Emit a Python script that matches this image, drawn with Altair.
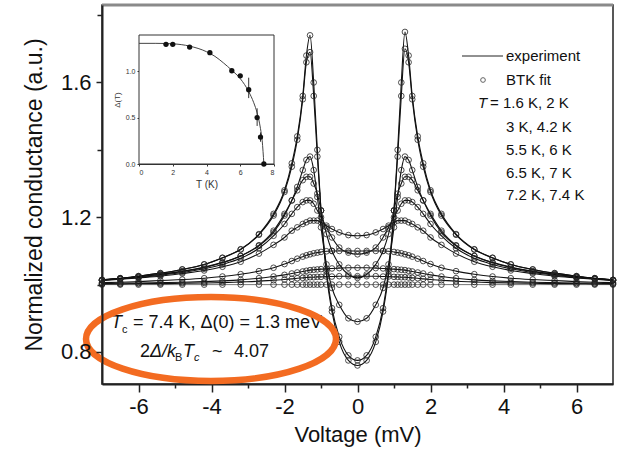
import altair as alt
import pandas as pd

FONT = "Liberation Sans"

# ---------------- main data ----------------
VOLTS = [-7.0, -6.5, -6.0, -5.4, -4.8, -4.2, -3.7, -3.2, -2.7, -2.3, -2.0, -1.8, -1.65, -1.5, -1.4, -1.3,
         -1.2, -1.1, -1.0, -0.85, -0.7, -0.5, -0.25,
         0.0,
         0.25, 0.5, 0.7, 0.85, 1.0, 1.1, 1.2, 1.3, 1.4, 1.5, 1.65, 1.8, 2.0, 2.3, 2.7, 3.2, 3.7, 4.2,
         4.8, 5.4, 6.0, 6.5, 7.0]

G_1_6K = [1.014, 1.019, 1.025, 1.034, 1.045, 1.06, 1.08, 1.105, 1.15, 1.21, 1.28, 1.36, 1.44, 1.56, 1.68, 1.74,
          1.60, 1.40, 1.22, 1.03, 0.92, 0.83, 0.775,
          0.76,
          0.775, 0.83, 0.92, 1.03, 1.22, 1.40, 1.60, 1.75, 1.68, 1.56, 1.44, 1.36, 1.28, 1.21, 1.15, 1.105,
          1.08, 1.06, 1.045, 1.034, 1.025, 1.019, 1.014]
G_2K = [1.014, 1.019, 1.025, 1.034, 1.045, 1.06, 1.079, 1.104, 1.148, 1.205, 1.275, 1.35, 1.43, 1.55, 1.66, 1.69,
        1.56, 1.38, 1.22, 1.04, 0.93, 0.845, 0.79,
        0.775,
        0.79, 0.845, 0.93, 1.04, 1.22, 1.38, 1.56, 1.70, 1.66, 1.55, 1.43, 1.35, 1.275, 1.205, 1.148, 1.104,
        1.079, 1.06, 1.045, 1.034, 1.025, 1.019, 1.014]
G_3K = [1.014, 1.018, 1.024, 1.031, 1.04, 1.052, 1.066, 1.085, 1.115, 1.155, 1.205, 1.25, 1.29, 1.34, 1.37, 1.38,
        1.34, 1.26, 1.17, 1.06, 0.99, 0.94, 0.90,
        0.89,
        0.90, 0.94, 0.99, 1.06, 1.17, 1.26, 1.34, 1.38, 1.37, 1.34, 1.29, 1.25, 1.205, 1.155, 1.115, 1.085,
        1.066, 1.052, 1.04, 1.031, 1.024, 1.018, 1.014]
G_4_2K = [1.013, 1.018, 1.023, 1.03, 1.039, 1.051, 1.065, 1.085, 1.117, 1.16, 1.21, 1.25, 1.28, 1.31, 1.32, 1.32,
          1.30, 1.27, 1.22, 1.15, 1.10, 1.06, 1.03,
          1.02,
          1.03, 1.06, 1.10, 1.15, 1.22, 1.27, 1.30, 1.32, 1.32, 1.31, 1.28, 1.25, 1.21, 1.16, 1.117, 1.085,
          1.065, 1.051, 1.039, 1.03, 1.023, 1.018, 1.013]
G_5_5K = [1.013, 1.017, 1.021, 1.028, 1.036, 1.047, 1.06, 1.078, 1.108, 1.145, 1.18, 1.21, 1.23, 1.245, 1.25, 1.25,
          1.24, 1.22, 1.20, 1.17, 1.14, 1.11, 1.095,
          1.09,
          1.095, 1.11, 1.14, 1.17, 1.20, 1.22, 1.24, 1.25, 1.25, 1.245, 1.23, 1.21, 1.18, 1.145, 1.108, 1.078,
          1.06, 1.047, 1.036, 1.028, 1.021, 1.017, 1.013]
G_6K = [1.012, 1.016, 1.02, 1.025, 1.033, 1.042, 1.053, 1.068, 1.092, 1.118, 1.14, 1.16, 1.17, 1.18, 1.185, 1.19,
        1.19, 1.19, 1.185, 1.175, 1.165, 1.155, 1.147,
        1.145,
        1.147, 1.155, 1.165, 1.175, 1.185, 1.19, 1.19, 1.19, 1.185, 1.18, 1.17, 1.16, 1.14, 1.118, 1.092, 1.068,
        1.053, 1.042, 1.033, 1.025, 1.02, 1.016, 1.012]
G_6_5K = [1.006, 1.007, 1.009, 1.012, 1.015, 1.019, 1.024, 1.031, 1.04, 1.05, 1.061, 1.07, 1.077, 1.083, 1.087, 1.09,
          1.093, 1.095, 1.097, 1.099, 1.10, 1.10, 1.10,
          1.10,
          1.10, 1.10, 1.10, 1.099, 1.097, 1.095, 1.093, 1.09, 1.087, 1.083, 1.077, 1.07, 1.061, 1.05, 1.04, 1.031,
          1.024, 1.019, 1.015, 1.012, 1.009, 1.007, 1.006]
G_7K = [1.003, 1.004, 1.005, 1.006, 1.007, 1.009, 1.011, 1.014, 1.019, 1.024, 1.029, 1.033, 1.036, 1.039, 1.041, 1.043,
        1.044, 1.045, 1.046, 1.047, 1.048, 1.049, 1.05,
        1.05,
        1.05, 1.049, 1.048, 1.047, 1.046, 1.045, 1.044, 1.043, 1.041, 1.039, 1.036, 1.033, 1.029, 1.024, 1.019, 1.014,
        1.011, 1.009, 1.007, 1.006, 1.005, 1.004, 1.003]
G_7_2K = [1.002, 1.002, 1.003, 1.003, 1.004, 1.005, 1.006, 1.008, 1.01, 1.013, 1.015, 1.017, 1.019, 1.02, 1.021, 1.022,
          1.022, 1.023, 1.023, 1.024, 1.024, 1.025, 1.025,
          1.025,
          1.025, 1.025, 1.024, 1.024, 1.023, 1.023, 1.022, 1.022, 1.021, 1.02, 1.019, 1.017, 1.015, 1.013, 1.01, 1.008,
          1.006, 1.005, 1.004, 1.003, 1.003, 1.002, 1.002]
G_7_4K = [1.0, 1.0, 1.0, 1.0, 1.0, 1.0, 1.0, 1.0, 1.0, 1.0, 1.0, 1.0, 1.0, 1.0, 1.0, 1.0,
          1.0, 1.0, 1.0, 1.0, 1.0, 1.0, 1.0,
          1.0,
          1.0, 1.0, 1.0, 1.0, 1.0, 1.0, 1.0, 1.0, 1.0, 1.0, 1.0, 1.0, 1.0, 1.0, 1.0, 1.0,
          1.0, 1.0, 1.0, 1.0, 1.0, 1.0, 1.0]

TEMPS = ["1.6 K", "2 K", "3 K", "4.2 K", "5.5 K", "6 K", "6.5 K", "7 K", "7.2 K", "7.4 K"]
CURVES = [G_1_6K, G_2K, G_3K, G_4_2K, G_5_5K, G_6K, G_6_5K, G_7K, G_7_2K, G_7_4K]

# ---------------- inset data ----------------
INSET_T = [1.6, 2.0, 3.0, 4.2, 5.5, 6.0, 6.5, 7.0, 7.2, 7.4]
INSET_D = [1.29, 1.29, 1.26, 1.20, 1.005, 0.95, 0.80, 0.50, 0.29, 0.0]
FIT_T = [0.0, 1.0, 2.0, 3.0, 4.0, 4.5, 5.0, 5.5, 6.0, 6.5, 6.8, 7.0, 7.2, 7.3, 7.4]
FIT_D = [1.30, 1.30, 1.295, 1.27, 1.21, 1.16, 1.09, 1.01, 0.92, 0.78, 0.66, 0.55, 0.38, 0.25, 0.0]
ERR_T = [6.5, 7.0, 7.2]
ERR_LO = [0.71, 0.41, 0.24]
ERR_HI = [0.93, 0.60, 0.34]

rows = []
for name, vals in zip(TEMPS, CURVES):
    assert len(vals) == len(VOLTS), name
    for v, g in zip(VOLTS, vals):
        rows.append({"V": v, "G": g, "T": name})
df = pd.DataFrame(rows)
df_main = df[df["T"] != "7.4 K"]
df_flat = df[df["T"] == "7.4 K"]

ins_pts = pd.DataFrame({"T": INSET_T, "D": INSET_D})
ins_fit = pd.DataFrame({"T": FIT_T, "D": FIT_D})
ins_err = pd.DataFrame({"T": ERR_T, "lo": ERR_LO, "hi": ERR_HI})

OX, OY = 102, 5
W, H = 511, 379

xs = alt.Scale(domain=[-7, 7], nice=False, zero=False)
ys = alt.Scale(domain=[0.705, 1.83], nice=False, zero=False)

x_axis = alt.Axis(
    values=list(range(-6, 7)),
    labelExpr="datum.value % 2 === 0 ? (datum.value + '') : ''",
    tickSize={"condition": {"test": "datum.value % 2 === 0", "value": 8}, "value": 4},
    title="Voltage (mV)", grid=False,
    domainColor="#222", domainWidth=2, tickColor="#222", tickWidth=1.5,
    labelFont=FONT, titleFont=FONT, labelFontSize=22, titleFontSize=22,
    labelColor="#111", titleColor="#111", titleFontWeight="normal",
    labelPadding=4, titlePadding=7,
)
y_axis = alt.Axis(
    values=[0.8, 1.0, 1.2, 1.4, 1.6, 1.8],
    labelExpr="round(datum.value * 10) % 4 === 0 ? format(datum.value, '.1f') : ''",
    tickSize={"condition": {"test": "round(datum.value * 10) % 4 === 0", "value": 6}, "value": 5},
    title="Normalized conductance (a.u.)", grid=False,
    domainColor="#222", domainWidth=2, tickColor="#222", tickWidth=1.5,
    labelFont=FONT, titleFont=FONT, labelFontSize=22, titleFontSize=23,
    labelColor="#111", titleColor="#111", titleFontWeight="normal",
    labelPadding=5, titlePadding=14, zindex=1,
)

flat = alt.Chart(df_flat).mark_line(color="#777", strokeWidth=1).encode(
    x=alt.X("V:Q", scale=xs, axis=x_axis),
    y=alt.Y("G:Q", scale=ys, axis=y_axis),
)
lines = alt.Chart(df_main).mark_line(color="#111", strokeWidth=1.1, interpolate="monotone").encode(
    x=alt.X("V:Q", scale=xs), y=alt.Y("G:Q", scale=ys), detail="T:N"
)
pts = alt.Chart(df).mark_point(shape="circle", size=32, filled=False, color="#222",
                               strokeWidth=0.8, opacity=1).encode(
    x=alt.X("V:Q", scale=xs), y=alt.Y("G:Q", scale=ys)
)


def txt(s, x, y, size, italic=False, baseline="middle", align="left", color="#111"):
    return alt.Chart(alt.Data(values=[{}])).mark_text(
        text=s, fontSize=size, font=FONT, fontStyle="italic" if italic else "normal",
        align=align, baseline=baseline, color=color,
    ).encode(x=alt.value(x - OX), y=alt.value(y - OY))


top_line = alt.Chart(alt.Data(values=[{}])).mark_rule(color="#8a8a8a", strokeWidth=3).encode(
    x=alt.value(0), x2=alt.value(W), y=alt.value(0)
)

# legend
leg_line = alt.Chart(alt.Data(values=[{}])).mark_rule(color="#222", strokeWidth=1).encode(
    x=alt.value(462 - OX), x2=alt.value(503 - OX), y=alt.value(56 - OY)
)
leg_pt = alt.Chart(alt.Data(values=[{}])).mark_point(shape="circle", size=22, filled=False,
                                                      color="#222", strokeWidth=1).encode(
    x=alt.value(483 - OX), y=alt.value(80 - OY)
)
LS = 15
legend = [
    leg_line, leg_pt,
    txt("experiment", 506, 56, LS),
    txt("BTK fit", 506, 80, LS),
    txt("T", 478, 103, LS, italic=True),
    txt("= 1.6 K, 2 K", 490, 103, LS),
    txt("3 K, 4.2 K", 506, 127, LS),
    txt("5.5 K, 6 K", 506, 150, LS),
    txt("6.5 K, 7 K", 506, 173, LS),
    txt("7.2 K, 7.4 K", 506, 195, LS),
]

# annotation
AS = 18
annot = [
    txt("T", 111, 328, AS, italic=True, baseline="alphabetic"),
    txt("c", 122, 333, 11, baseline="alphabetic"),
    txt("= 7.4 K, \u0394(0) = 1.3 meV", 133, 328, AS, baseline="alphabetic"),
    txt("2", 140, 357, AS, baseline="alphabetic"),
    txt("\u0394/k", 150, 357, AS, italic=True, baseline="alphabetic"),
    txt("B", 175, 361, 11, baseline="alphabetic"),
    txt("T", 183, 357, AS, italic=True, baseline="alphabetic"),
    txt("c", 194, 361, 11, italic=True, baseline="alphabetic"),
    txt("~", 212, 357, AS, baseline="alphabetic"),
    txt("4.07", 234, 357, AS, baseline="alphabetic"),
]

ELLIPSE = ("M 1 0 C 1 0.1856 0.5523 0.336 0 0.336 C -0.5523 0.336 -1 0.1856 -1 0 "
           "C -1 -0.1856 -0.5523 -0.336 0 -0.336 C 0.5523 -0.336 1 -0.1856 1 0 Z")
ellipse = alt.Chart(alt.Data(values=[{}])).mark_point(
    shape=ELLIPSE, size=250 * 250, filled=False, color="#F36B21", strokeWidth=6.5, opacity=1
).encode(x=alt.value(211 - OX), y=alt.value(339 - OY))

main = alt.layer(flat, lines, pts, top_line, *legend, *annot, ellipse)

# ---------------- inset ----------------
ix = alt.Scale(domain=[0, 8], range=[139 - OX, 274 - OX], nice=False, zero=False)
iy = alt.Scale(domain=[0, 1.39], range=[164 - OY, 35 - OY], nice=False, zero=False)
ix_axis = alt.Axis(orient="bottom", offset=-(H - (164 - OY)), values=[0, 2, 4, 6, 8], format="d",
                   title="T (K)", grid=False, labelFontSize=7, titleFontSize=10, tickSize=2,
                   labelPadding=2, titlePadding=4, domainColor="#333", tickColor="#333",
                   labelFont=FONT, titleFont=FONT, labelColor="#333", titleColor="#333",
                   titleFontWeight="normal")
iy_axis = alt.Axis(orient="left", offset=-(139 - OX), values=[0, 0.5, 1.0], format=".1f",
                   title="\u0394(T)", grid=False, labelFontSize=7, titleFontSize=8, tickSize=2,
                   labelPadding=2, titlePadding=4, domainColor="#333", tickColor="#333",
                   labelFont=FONT, titleFont=FONT, labelColor="#333", titleColor="#333",
                   titleFontWeight="normal")

frame = alt.Chart(alt.Data(values=[{}])).mark_rect(fill="white", stroke="#333", strokeWidth=1).encode(
    x=alt.value(139 - OX), x2=alt.value(274 - OX), y=alt.value(35 - OY), y2=alt.value(164 - OY)
)
fit_line = alt.Chart(ins_fit).mark_line(color="#444", strokeWidth=1, interpolate="monotone").encode(
    x=alt.X("T:Q", scale=ix, axis=ix_axis), y=alt.Y("D:Q", scale=iy, axis=iy_axis)
)
err = alt.Chart(ins_err).mark_rule(color="#333", strokeWidth=1).encode(
    x=alt.X("T:Q", scale=ix), y=alt.Y("lo:Q", scale=iy), y2="hi:Q"
)
ipts = alt.Chart(ins_pts).mark_circle(size=28, color="#111", opacity=1).encode(
    x=alt.X("T:Q", scale=ix), y=alt.Y("D:Q", scale=iy)
)
inset = alt.layer(frame, fit_line, err, ipts)

chart = alt.layer(main, inset).resolve_scale(x="independent", y="independent").properties(
    width=W, height=H,
    autosize=alt.AutoSizeParams(type="none"),
    padding={"left": OX, "top": OY, "right": 619 - OX - W, "bottom": 456 - OY - H},
    background="white",
).configure_view(stroke="#222", strokeWidth=1.5)

chart.save("out.html", embed_options={"renderer": "svg", "actions": False})
